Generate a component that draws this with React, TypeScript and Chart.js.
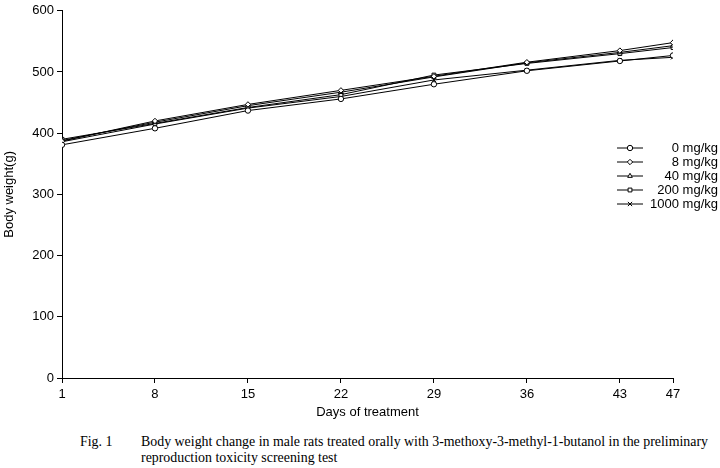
import React, { useEffect, useRef } from "react";
import { Chart, registerables } from "chart.js";
import { drawPoint } from "chart.js/helpers";

Chart.register(...registerables);

const days = [1, 8, 15, 22, 29, 36, 43, 47];
const xTicks = [1, 8, 15, 22, 29, 36, 43, 47];
const seriesNames = ["0 mg/kg", "8 mg/kg", "40 mg/kg", "200 mg/kg", "1000 mg/kg"];
const dose0 = [381, 408, 437, 456, 480, 502, 518, 527];
const dose8 = [387, 420, 447, 470, 493, 516, 535, 548];
const dose40 = [388, 418, 445, 467, 492, 515, 532, 543];
const dose200 = [390, 416, 442, 463, 495, 514, 530, 540];
const dose1000 = [386, 415, 441, 460, 487, 503, 519, 524];
const seriesValues = [dose0, dose8, dose40, dose200, dose1000];
const pointStyles = ["circle", "rectRot", "triangle", "rect", "crossRot"];

const FONT = "'Liberation Sans', Arial, sans-serif";

const legendPlugin = {
  id: "customLegend",
  afterDraw(chart: any) {
    const ctx = chart.ctx;
    ctx.save();
    const x0 = 617;
    const x1 = 643;
    const textX = 718;
    const y0 = 148;
    const dy = 14;
    chart.data.datasets.forEach((ds: any, i: number) => {
      const y = y0 + i * dy;
      ctx.strokeStyle = "#000";
      ctx.lineWidth = 1;
      ctx.beginPath();
      ctx.moveTo(x0, y);
      ctx.lineTo(x1, y);
      ctx.stroke();
      ctx.fillStyle = "#fff";
      drawPoint(ctx, { pointStyle: ds.pointStyle, radius: ds.pointRadius, borderWidth: 1, rotation: 0 } as any, (x0 + x1) / 2, y);
      ctx.fillStyle = "#000";
      ctx.font = `13px ${FONT}`;
      ctx.textAlign = "right";
      ctx.textBaseline = "middle";
      ctx.fillText(ds.label, textX, y);
    });
    ctx.restore();
  },
};

export default function App() {
  const ref = useRef<HTMLCanvasElement | null>(null);
  useEffect(() => {
    if (!ref.current) return;
    const datasets = seriesNames.map((name, i) => ({
      label: name,
      data: days.map((d, j) => ({ x: d, y: seriesValues[i][j] })),
      borderColor: "#000",
      borderWidth: 1,
      backgroundColor: "#fff",
      pointStyle: pointStyles[i],
      pointRadius: pointStyles[i] === "crossRot" ? 3 : 2.7,
      pointBorderColor: "#000",
      pointBackgroundColor: "#fff",
      pointBorderWidth: 1,
      tension: 0,
    }));
    const chart = new Chart(ref.current, {
      type: "line",
      data: { datasets },
      options: {
        animation: false,
        responsive: false,
        devicePixelRatio: 1,
        layout: { padding: { top: -2, right: 47, left: 0, bottom: 0 } },
        plugins: { legend: { display: false }, tooltip: { enabled: false } },
        scales: {
          x: {
            type: "linear",
            min: 1,
            max: 47,
            afterBuildTicks: (scale: any) => {
              scale.ticks = xTicks.map((v) => ({ value: v }));
            },
            afterFit: (scale: any) => {
              scale.height = 42;
            },
            ticks: {
              color: "#000",
              font: { family: FONT, size: 13 },
              padding: 4,
              maxRotation: 0,
              autoSkip: false,
            },
            grid: { drawOnChartArea: false, drawTicks: true, tickLength: 5, color: "#000" },
            border: { display: true, color: "#000", width: 1 },
            title: {
              display: true,
              text: "Days of treatment",
              color: "#000",
              font: { family: FONT, size: 13 },
              padding: { top: 2, bottom: 0 },
            },
          },
          y: {
            min: 0,
            max: 600,
            ticks: {
              stepSize: 100,
              color: "#000",
              font: { family: FONT, size: 13 },
              padding: 3,
            },
            afterFit: (scale: any) => {
              scale.width = 62;
            },
            grid: { drawOnChartArea: false, drawTicks: true, tickLength: 5, color: "#000" },
            border: { display: true, color: "#000", width: 1 },
            title: {
              display: true,
              text: "Body weight(g)",
              color: "#000",
              font: { family: FONT, size: 13 },
              padding: { top: 2, bottom: 4 },
            },
          },
        },
      },
      plugins: [legendPlugin],
    });
    return () => chart.destroy();
  }, []);

  return (
    <div style={{ position: "fixed", left: 0, top: 0, width: 720, height: 468, background: "#fff" }}>
      <canvas ref={ref} width={720} height={420} style={{ display: "block", width: 720, height: 420 }} />
      <div
        style={{
          position: "absolute",
          left: 80,
          top: 434,
          width: 636,
          fontFamily: "'Liberation Serif', 'DejaVu Serif', serif",
          fontSize: 13.9,
          lineHeight: "16px",
          color: "#000",
          display: "flex",
        }}
      >
        <span style={{ width: 61, flexShrink: 0 }}>Fig. 1</span>
        <span>
          Body weight change in male rats treated orally with 3-methoxy-3-methyl-1-butanol in the preliminary
          reproduction toxicity screening test
        </span>
      </div>
    </div>
  );
}
